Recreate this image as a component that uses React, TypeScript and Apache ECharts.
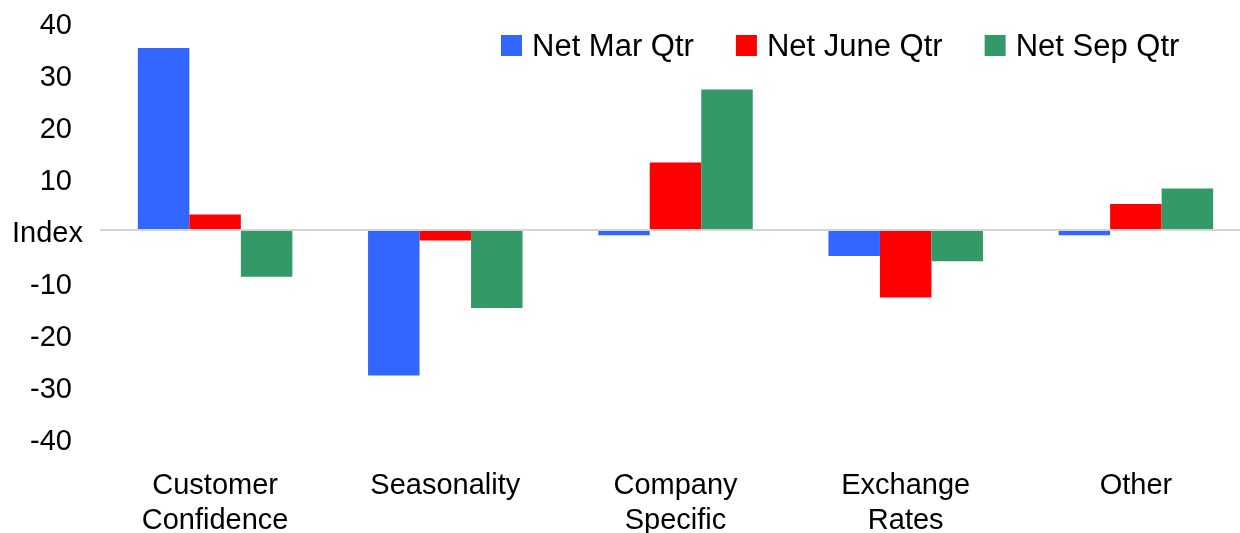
import React, { useEffect, useRef } from "react";
import * as echarts from "echarts";

const categories = ["Customer\nConfidence", "Seasonality", "Company\nSpecific", "Exchange\nRates", "Other"];
const seriesNames = ["Net Mar Qtr", "Net June Qtr", "Net Sep Qtr"];
const netMar = [35, -28, -1, -5, -1];
const netJune = [3, -2, 13, -13, 5];
const netSep = [-9, -15, 27, -6, 8];
const yTickValues = [-40, -30, -20, -10, 0, 10, 20, 30, 40];
const yTickLabels = ["-40", "-30", "-20", "-10", "Index", "10", "20", "30", "40"];
const colors = ["#3366FF", "#FF0000", "#339966"];

const FONT = "Liberation Sans, Arial, sans-serif";

export default function App() {
  const ref = useRef<HTMLDivElement>(null);
  useEffect(() => {
    if (!ref.current) return;
    const chart = echarts.init(ref.current, null, { renderer: "svg" });
    const data = [netMar, netJune, netSep];
    chart.setOption({
      animation: false,
      textStyle: { fontFamily: FONT },
      legend: {
        left: 496,
        top: 25,
        itemWidth: 21,
        itemHeight: 21,
        itemGap: 42,
        icon: "rect",
        data: seriesNames,
        textStyle: { fontSize: 31, color: "#000", fontFamily: FONT, padding: [0, 0, 0, 5] },
      },
      grid: { left: 100, top: 22, width: 1151, bottom: 95, outerBoundsMode: "none", containLabel: false },
      xAxis: {
        type: "category",
        data: categories,
        axisLine: { show: false, onZero: false },
        axisTick: { show: false },
        axisLabel: { fontSize: 29, color: "#000", lineHeight: 35, margin: 28, fontFamily: FONT, interval: 0 },
      },
      yAxis: {
        type: "value",
        min: -40,
        max: 40,
        interval: 10,
        axisLine: { show: false },
        axisTick: { show: false },
        splitLine: { show: false },
        axisLabel: {
          fontSize: 29,
          color: "#000",
          margin: 28,
          padding: [4, 0, 0, 0],
          fontFamily: FONT,
          formatter: (v: number) => {
            const i = yTickValues.indexOf(v);
            const s = i >= 0 ? yTickLabels[i] : String(v);
            return v === 0 ? "{i|" + s + "}" : s;
          },
          rich: {
            i: { fontSize: 29, color: "#000", fontFamily: FONT, width: 60, align: "left" },
          },
        },
      },
      series: seriesNames.map((name, k) => ({
        name,
        type: "bar",
        data: data[k],
        barWidth: 51.5,
        barGap: "0%",
        itemStyle: { color: colors[k] },
        ...(k === 0
          ? {
              markLine: {
                silent: true,
                symbol: "none",
                label: { show: false },
                lineStyle: { color: "#d4d4d4", width: 2, type: "solid" },
                data: [{ yAxis: 0 }],
              },
            }
          : {}),
      })),
    });
    return () => chart.dispose();
  }, []);
  return (
    <div
      ref={ref}
      style={{ position: "fixed", left: 0, top: 0, width: 1240, height: 533, overflow: "visible" }}
    />
  );
}
